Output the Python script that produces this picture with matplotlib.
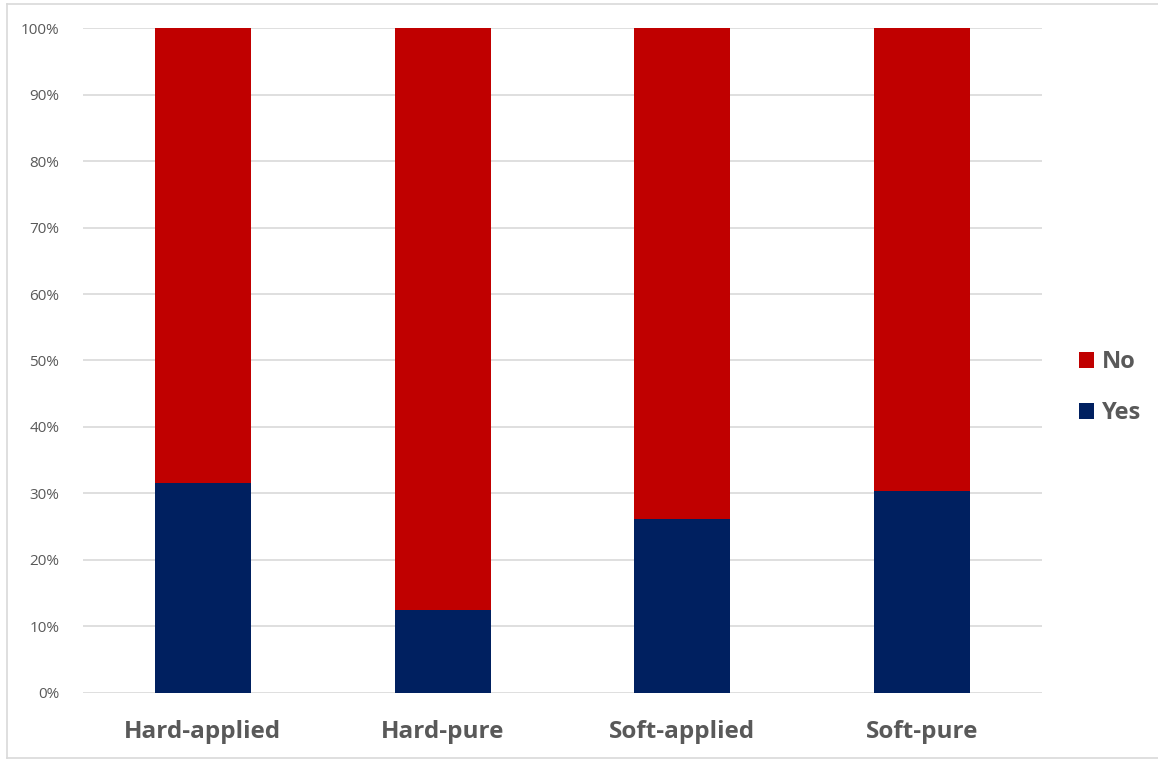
import matplotlib.pyplot as plt
from matplotlib.patches import Patch
from matplotlib.lines import Line2D
from matplotlib.ticker import PercentFormatter

# share of answers per group, in percent
groups = ['Hard-applied', 'Hard-pure', 'Soft-applied', 'Soft-pure']
yes_pct = [31.6, 12.4, 26.2, 30.4]
no_pct = [100 - v for v in yes_pct]

RED = '#C00000'
NAVY = '#002060'
GRID = '#D9D9D9'
TEXT = '#595959'

plt.rcParams['font.family'] = ['Open Sans', 'DejaVu Sans']

fig = plt.figure(figsize=(11.58, 7.6), dpi=100)
ax = fig.add_axes([0.0717, 0.0886, 0.8281, 0.8742])

x = range(len(groups))
ax.bar(x, yes_pct, width=0.4, color=NAVY, zorder=3)
ax.bar(x, no_pct, width=0.4, bottom=yes_pct, color=RED, zorder=3)

ax.set_xlim(-0.5, len(groups) - 0.5)
ax.set_ylim(0, 100)
ax.set_yticks(range(0, 101, 10))
ax.yaxis.set_major_formatter(PercentFormatter(decimals=0))
ax.grid(axis='y', color=GRID, linewidth=1.2, zorder=0)
for s in ax.spines.values():
    s.set_visible(False)
ax.tick_params(axis='both', length=0)
ax.tick_params(axis='y', labelsize=11, labelcolor=TEXT, pad=17)
ax.set_xticks(list(x))
ax.set_xticklabels(groups, fontsize=17.5, fontweight='bold', color=TEXT)
ax.tick_params(axis='x', pad=20)

handles = [Patch(facecolor=RED, label='No'), Patch(facecolor=NAVY, label='Yes')]
leg = fig.legend(handles=handles, loc='center left', bbox_to_anchor=(0.913, 0.49),
                 frameon=False, handlelength=0.65, handleheight=0.65, handletextpad=0.35,
                 labelspacing=1.15, prop={'size': 17, 'weight': 'bold'})
for t in leg.get_texts():
    t.set_color(TEXT)

# chart area outline
for xs, ys in [([0.006, 1.0], [0.995, 0.995]), ([0.006, 0.006], [0.003, 0.995]),
               ([0.006, 1.0], [0.003, 0.003])]:
    fig.add_artist(Line2D(xs, ys, color=GRID, linewidth=1.2, transform=fig.transFigure))

fig.savefig('out.png', dpi=100, facecolor='white')
